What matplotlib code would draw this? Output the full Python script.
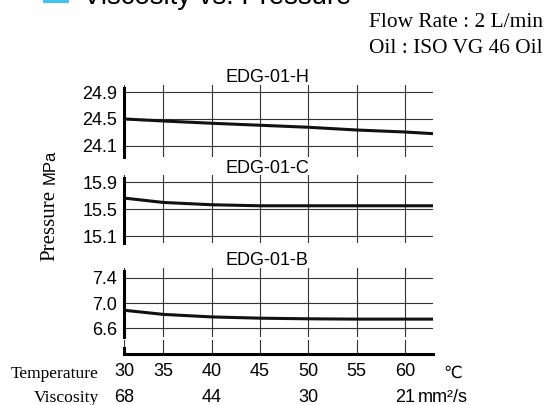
import matplotlib
matplotlib.use("Agg")
import matplotlib.pyplot as plt
import numpy as np
from matplotlib.patches import Rectangle
from matplotlib.transforms import blended_transform_factory

W, H = 548, 405

temperature = [30, 35, 40, 45, 50, 55, 60, 62.9]
pressure_h = [24.50, 24.47, 24.436, 24.406, 24.376, 24.335, 24.305, 24.28]
pressure_c = [15.664, 15.60, 15.566, 15.551, 15.551, 15.551, 15.551, 15.551]
pressure_b = [6.885, 6.82, 6.78, 6.76, 6.75, 6.745, 6.745, 6.745]

temp_ticks = [30, 35, 40, 45, 50, 55, 60]
visc_temps = [30, 40, 50, 60]
visc_labels = ["68", "44", "30", "21"]

panels = [
    ("EDG-01-H", pressure_h, [24.1, 24.5, 24.9], ["24.1", "24.5", "24.9"], (23.935, 25.009)),
    ("EDG-01-C", pressure_c, [15.1, 15.5, 15.9], ["15.1", "15.5", "15.9"], (15.0, 16.003)),
    ("EDG-01-B", pressure_b, [6.6, 7.0, 7.4], ["6.6", "7.0", "7.4"], (6.467, 7.549)),
]

# chart's first 5 degrees are squeezed compared to the rest
_knots_t = [30, 35, 70]
_knots_p = [0, 4.03, 39.03]


def fwd(t):
    return np.interp(t, _knots_t, _knots_p)


def inv(p):
    return np.interp(p, _knots_p, _knots_t)


def rect(x0, y0, x1, y1):
    return [x0 / W, 1 - y1 / H, (x1 - x0) / W, (y1 - y0) / H]


SANS = ["Liberation Sans", "DejaVu Sans"]
SERIF = ["Liberation Serif", "DejaVu Serif"]
plt.rcParams["font.family"] = SANS

fig = plt.figure(figsize=(W / 100, H / 100), dpi=100)

x0, x1 = 124.3, 433.3
boxes = [(85, 156.7), (175, 243.3), (268.3, 336.7)]
title_y = [81.7, 173.3, 265]

for (name, vals, yt, ytl, ylim), (top, bot), ty in zip(panels, boxes, title_y):
    ax = fig.add_axes(rect(x0, top, x1, bot))
    ax.set_xscale("function", functions=(fwd, inv))
    ax.set_xlim(30, 62.93)
    ax.set_ylim(*ylim)
    ax.plot(temperature, vals, color="#111111", lw=2.2, solid_capstyle="butt", zorder=3)
    ax.set_xticks(temp_ticks)
    ax.set_yticks(yt, ytl)
    ax.tick_params(axis="x", length=0, labelbottom=False)
    ax.tick_params(axis="y", length=0, pad=5, labelsize=13)
    ax.grid(True, color="#333333", lw=0.8)
    for s in ("top", "right", "bottom"):
        ax.spines[s].set_visible(False)
    ax.spines["left"].set_linewidth(2.2)
    ax.spines["left"].set_bounds(ylim[0], ylim[1] - (ylim[1] - ylim[0]) * 0.04)
    fig.text(267 / W, 1 - ty / H, name, ha="center", va="baseline", fontsize=13)

axb = fig.add_axes(rect(x0, 340, x1, 354))
axb.set_xscale("function", functions=(fwd, inv))
axb.set_xlim(30, 62.93)
axb.set_ylim(0, 1)
axb.set_yticks([])
axb.set_xticks(temp_ticks, [str(t) for t in temp_ticks])
axb.tick_params(axis="x", length=0, pad=6.2, labelsize=13)
axb.grid(True, axis="x", color="#333333", lw=0.8)
for s in ("top", "right"):
    axb.spines[s].set_visible(False)
axb.spines["left"].set_linewidth(2.2)
axb.spines["left"].set_bounds(0, 0.43)
axb.spines["bottom"].set_linewidth(2.2)

tr = blended_transform_factory(axb.transData, fig.transFigure)
for t, lab in zip(visc_temps, visc_labels):
    axb.text(t, 1 - 401.5 / H, lab, transform=tr, ha="center", va="baseline", fontsize=13)

fig.text(418 / W, 1 - 401.5 / H, "mm²/s", ha="left", va="baseline", fontsize=13)
fig.text(453 / W, 1 - 378 / H, "℃", ha="center", va="baseline", fontsize=12)
fig.text(99 / W, 1 - 378 / H, "Temperature", ha="right", va="baseline", fontsize=12.6, family=SERIF)
fig.text(99 / W, 1 - 401.5 / H, "Viscosity", ha="right", va="baseline", fontsize=12.6, family=SERIF)

fig.text(50 / W, 1 - 225 / H, "Pressure", rotation=90, ha="center", va="center", fontsize=15, family=SERIF)
fig.text(50 / W, 1 - 166.5 / H, "MPa", rotation=90, ha="center", va="center", fontsize=12)

fig.text(542.7 / W, 1 - 26.7 / H, "Flow Rate : 2 L/min", ha="right", va="baseline", fontsize=15.4, family=SERIF)
fig.text(542.7 / W, 1 - 53 / H, "Oil : ISO VG 46 Oil", ha="right", va="baseline", fontsize=15.4, family=SERIF)

fig.patches.append(Rectangle((43.3 / W, 1 - 3 / H), 26 / W, 0.05, transform=fig.transFigure,
                             facecolor="#3ec6ef", edgecolor="none"))
fig.text(83 / W, 1 - 3.5 / H, "Viscosity vs. Pressure", ha="left", va="baseline", fontsize=19.8)

fig.savefig("out.png", dpi=100)
